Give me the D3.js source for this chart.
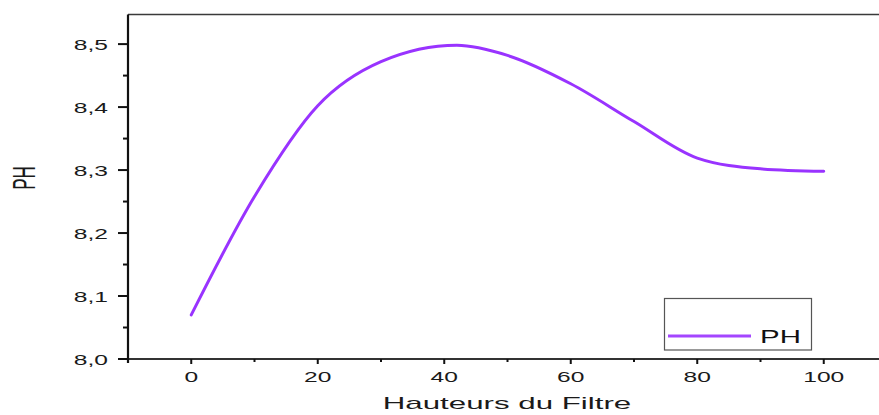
<!DOCTYPE html>
<html>
<head>
<meta charset="utf-8">
<script src="https://cdn.jsdelivr.net/npm/d3@7"></script>
<style>
  html, body { margin: 0; padding: 0; background: #fff; }
  svg { display: block; font-family: "Liberation Sans", Arial, sans-serif; }
</style>
</head>
<body>
<div id="chart"></div>
<script>
/* filter height (x) and pH readings (y) */
const hauteurs = [0, 10, 20, 30, 42, 50, 60, 70, 80, 90, 100];
const phValues = [8.07, 8.258, 8.402, 8.472, 8.498, 8.482, 8.437, 8.377, 8.319, 8.302, 8.298];

/* axis ticks */
const xMajorTicks = [0, 20, 40, 60, 80, 100];
const xMinorTicks = [-10, 10, 30, 50, 70, 90, 110];
const yMajorTicks = [8.0, 8.1, 8.2, 8.3, 8.4, 8.5];
const yMinorTicks = [8.05, 8.15, 8.25, 8.35, 8.45];

const seriesName = "PH";
const xTitle = "Hauteurs du Filtre";
const yTitle = "PH";

const width = 879, height = 415;
const plotLeft = 128, plotRight = 887, plotTop = 14.5, plotBottom = 359;

/* the source picture is stretched horizontally, text is stretched with it */
const stretch = 1.64;

const svg = d3.select("#chart").append("svg")
  .attr("width", width)
  .attr("height", height);

const x = d3.scaleLinear().domain([-10, 110]).range([plotLeft, plotRight]);
const y = d3.scaleLinear().domain([8.0, 8.547]).range([plotBottom, plotTop]);

const fmt = d => d3.format(".1f")(d).replace(".", ",");

/* top frame line */
svg.append("line")
  .attr("x1", plotLeft).attr("x2", width)
  .attr("y1", plotTop).attr("y2", plotTop)
  .attr("stroke", "#3a3a3a").attr("stroke-width", 1.7);

/* x axis */
const xAxis = svg.append("g");
xAxis.append("line")
  .attr("x1", plotLeft).attr("x2", width)
  .attr("y1", plotBottom).attr("y2", plotBottom)
  .attr("stroke", "#333").attr("stroke-width", 2);
xAxis.selectAll(".xmaj").data(xMajorTicks).join("line")
  .attr("class", "xmaj")
  .attr("x1", d => x(d)).attr("x2", d => x(d))
  .attr("y1", plotBottom).attr("y2", plotBottom + 5)
  .attr("stroke", "#111").attr("stroke-width", 2);
xAxis.selectAll(".xmin").data(xMinorTicks).join("line")
  .attr("class", "xmin")
  .attr("x1", d => x(d)).attr("x2", d => x(d))
  .attr("y1", plotBottom).attr("y2", plotBottom + 3)
  .attr("stroke", "#111").attr("stroke-width", 2);
xAxis.selectAll("text").data(xMajorTicks).join("text")
  .attr("transform", d => "translate(" + x(d) + "," + (plotBottom + 23) + ") scale(" + stretch + ",1)")
  .attr("text-anchor", "middle")
  .attr("font-size", 15)
  .attr("fill", "#1a1a1a")
  .text(d => d);

/* y axis */
const yAxis = svg.append("g");
yAxis.append("line")
  .attr("x1", plotLeft).attr("x2", plotLeft)
  .attr("y1", plotTop).attr("y2", plotBottom + 4)
  .attr("stroke", "#111").attr("stroke-width", 2.2);
yAxis.selectAll(".ymaj").data(yMajorTicks).join("line")
  .attr("class", "ymaj")
  .attr("x1", plotLeft - 10).attr("x2", plotLeft)
  .attr("y1", d => y(d)).attr("y2", d => y(d))
  .attr("stroke", "#111").attr("stroke-width", 2);
yAxis.selectAll(".ymin").data(yMinorTicks).join("line")
  .attr("class", "ymin")
  .attr("x1", plotLeft - 5).attr("x2", plotLeft)
  .attr("y1", d => y(d)).attr("y2", d => y(d))
  .attr("stroke", "#111").attr("stroke-width", 2);
yAxis.selectAll("text").data(yMajorTicks).join("text")
  .attr("transform", d => "translate(108," + (y(d) + 5.5) + ") scale(" + stretch + ",1)")
  .attr("text-anchor", "end")
  .attr("font-size", 15)
  .attr("fill", "#1a1a1a")
  .text(d => fmt(d));

/* axis titles */
svg.append("text")
  .attr("transform", "translate(507,409) scale(1.84,1)")
  .attr("text-anchor", "middle")
  .attr("font-size", 17)
  .attr("fill", "#1a1a1a")
  .text(xTitle);

svg.append("text")
  .attr("transform", "translate(35,178) scale(1.84,1) rotate(-90)")
  .attr("text-anchor", "middle")
  .attr("font-size", 17)
  .attr("fill", "#1a1a1a")
  .text(yTitle);

/* the pH curve */
const line = d3.line()
  .x((d, i) => x(hauteurs[i]))
  .y(d => y(d))
  .curve(d3.curveMonotoneX);

svg.append("path")
  .datum(phValues)
  .attr("d", line)
  .attr("fill", "none")
  .attr("stroke", "#9933ff")
  .attr("stroke-width", 3)
  .attr("stroke-linecap", "round");

/* legend */
const legend = svg.append("g");
legend.append("rect")
  .attr("x", 664.5).attr("y", 298.5)
  .attr("width", 147).attr("height", 51.5)
  .attr("fill", "#fff")
  .attr("stroke", "#555").attr("stroke-width", 1.2);
legend.append("line")
  .attr("x1", 668).attr("x2", 751)
  .attr("y1", 336).attr("y2", 336)
  .attr("stroke", "#a446ff").attr("stroke-width", 3);
legend.append("text")
  .attr("transform", "translate(760,343) scale(1.55,1)")
  .attr("font-size", 19)
  .attr("fill", "#111")
  .text(seriesName);
</script>
</body>
</html>
